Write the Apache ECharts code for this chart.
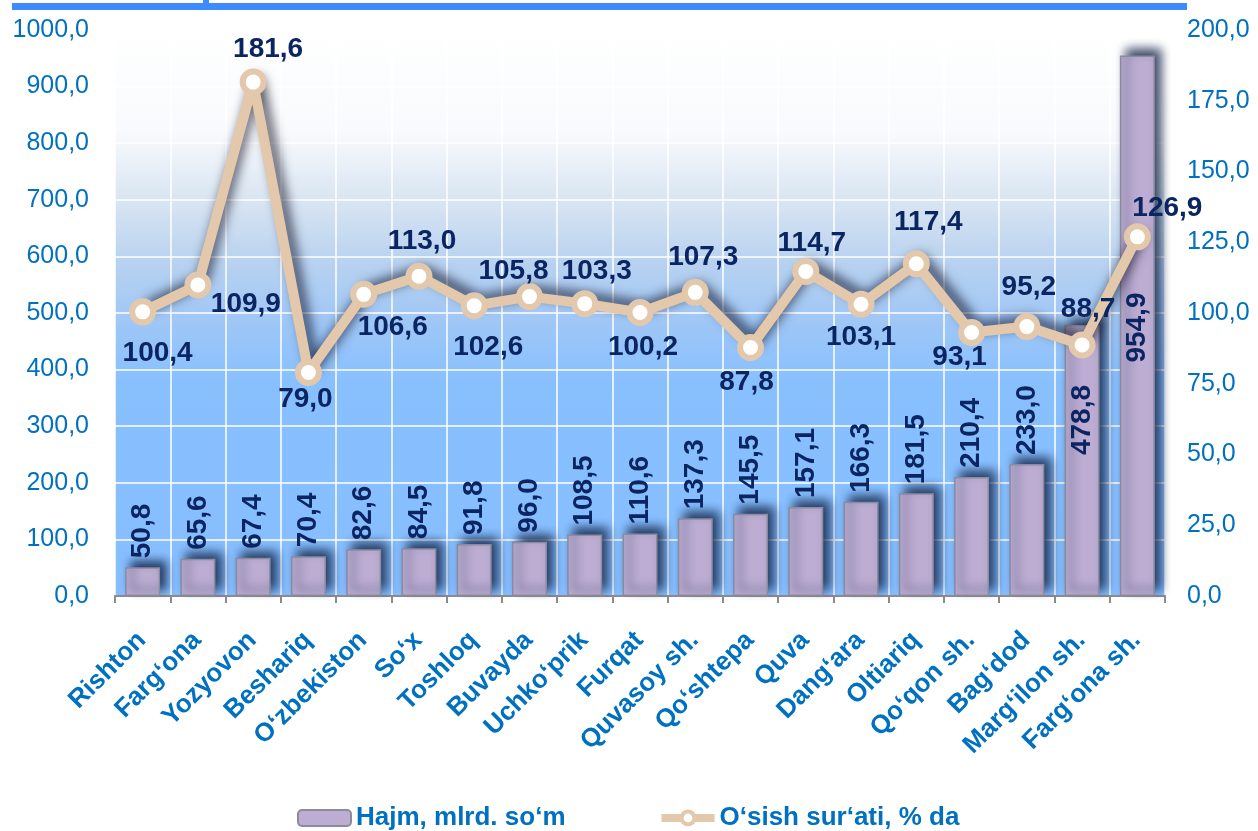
<!DOCTYPE html>
<html>
<head>
<meta charset="utf-8">
<script src="https://cdn.jsdelivr.net/npm/echarts@6/dist/echarts.min.js"></script>
<style>
  html, body { margin: 0; padding: 0; background: #fff; }
  #main { width: 1258px; height: 831px; }
</style>
</head>
<body>
<div id="main"></div>
<script>
// 数据
var categories = ["Rishton", "Farg‘ona", "Yozyovon", "Beshariq", "O‘zbekiston", "So‘x", "Toshloq", "Buvayda", "Uchko‘prik", "Furqat", "Quvasoy sh.", "Qo‘shtepa", "Quva", "Dang‘ara", "Oltiariq", "Qo‘qon sh.", "Bag‘dod", "Marg‘ilon sh.", "Farg‘ona sh."];
var hajm = [50.8, 65.6, 67.4, 70.4, 82.6, 84.5, 91.8, 96.0, 108.5, 110.6, 137.3, 145.5, 157.1, 166.3, 181.5, 210.4, 233.0, 478.8, 954.9];
var osish = [100.4, 109.9, 181.6, 79.0, 106.6, 113.0, 102.6, 105.8, 103.3, 100.2, 107.3, 87.8, 114.7, 103.1, 117.4, 93.1, 95.2, 88.7, 126.9];
var seriesNames = ["Hajm, mlrd. so‘m", "O‘sish sur‘ati, % da"];

// 折线标签的偏移 (相对于点)
var lineLabelOffset = [
  [15, 41], [48, 19], [15, -33], [-3, 27], [29, 33], [3, -35], [14, 42],
  [-16, -25], [12, -32], [3, 35], [8, -35], [-4, 35], [6, -28], [0, 33],
  [12, -41], [-12, 25], [2, -39], [6, -36], [30, -29]
];

var FONT = "'Liberation Sans', Arial, sans-serif";
var BLUE = "#0070C0";
var NAVY = "#0B2562";
var TAN = "#E3C8AC";

function fmt(v) {
  return Number(v).toFixed(1).replace(".", ",");
}

var myChart = echarts.init(document.getElementById("main"));

var barData = hajm.map(function(v, i) {
  var item = { value: v };
  // 最后两个柱子的标签放在柱子里面
  if (i === 17) {
    item.label = { position: "insideTop", align: "right", distance: 60 };
  } else if (i === 18) {
    item.label = { position: "insideTop", align: "right", distance: 237 };
  }
  return item;
});

var lineData = osish.map(function(v, i) {
  return { value: v, label: { offset: lineLabelOffset[i] } };
});

var option = {
  backgroundColor: "#fff",
  textStyle: { fontFamily: FONT },
  animation: false,
  graphic: [
    { type: "rect", shape: { x: 12, y: 3, width: 1175, height: 7 }, style: { fill: "#3D8BFF" } },
    { type: "rect", shape: { x: 203, y: 0, width: 6, height: 6 }, style: { fill: "#3D8BFF" } }
  ],
  grid: {
    left: 115,
    right: 93,
    top: 30,
    bottom: 235,
    show: true,
    borderWidth: 0,
    backgroundColor: {
      type: "linear", x: 0, y: 0, x2: 0, y2: 1,
      colorStops: [
        { offset: 0, color: "#FFFFFF" },
        { offset: 0.18, color: "#F8FAFD" },
        { offset: 0.3, color: "#D9E5F2" },
        { offset: 0.41, color: "#B8D2F0" },
        { offset: 0.51, color: "#A0C7F6" },
        { offset: 0.62, color: "#88C0FE" },
        { offset: 1, color: "#85BDFF" }
      ]
    }
  },
  legend: {
    top: 800,
    left: 292,
    itemWidth: 53,
    itemHeight: 16,
    itemGap: 92,
    data: [
      { name: seriesNames[0] },
      {
        name: seriesNames[1],
        lineStyle: { width: 8, color: TAN, shadowBlur: 0 },
        itemStyle: { color: "#FFFFFF", borderColor: TAN, borderWidth: 4, shadowBlur: 0 }
      }
    ],
    textStyle: { color: BLUE, fontSize: 26, fontWeight: "bold", fontFamily: FONT }
  },
  xAxis: {
    type: "category",
    data: categories,
    axisLine: { lineStyle: { color: "#8C8C8C", width: 2 } },
    axisTick: { show: true, length: 7, lineStyle: { color: "#8C8C8C", width: 2 } },
    splitLine: { show: true, lineStyle: { color: "#FFFFFF", width: 1.5 } },
    axisLabel: {
      interval: 0,
      rotate: 45,
      margin: 21,
      padding: [0, 14, 0, 0],
      align: "right",
      verticalAlign: "top",
      color: BLUE,
      fontSize: 26,
      fontWeight: "bold",
      fontFamily: FONT
    }
  },
  yAxis: [
    {
      type: "value",
      min: 0,
      max: 1000,
      interval: 100,
      axisLine: { show: false },
      axisTick: { show: false },
      splitLine: { show: true, lineStyle: { color: "#FFFFFF", width: 1.5 } },
      axisLabel: { color: BLUE, fontSize: 25, margin: 26, formatter: fmt, fontFamily: FONT }
    },
    {
      type: "value",
      min: 0,
      max: 200,
      interval: 25,
      axisLine: { show: false },
      axisTick: { show: false },
      splitLine: { show: false },
      axisLabel: { color: BLUE, fontSize: 25, margin: 22, formatter: fmt, fontFamily: FONT }
    }
  ],
  series: [
    {
      name: seriesNames[0],
      type: "bar",
      barWidth: 35,
      data: barData,
      itemStyle: {
        color: "#BDADD3",
        borderColor: "#8B8B9E",
        borderWidth: 1.5,
        shadowColor: "rgba(15,30,65,0.85)",
        shadowBlur: 10,
        shadowOffsetX: 6,
        shadowOffsetY: -6
      },
      label: {
        show: true,
        position: "top",
        rotate: 90,
        align: "left",
        verticalAlign: "middle",
        distance: 9,
        color: NAVY,
        fontSize: 28,
        fontWeight: "bold",
        fontFamily: FONT,
        formatter: function(p) { return fmt(p.value); }
      },
      z: 2
    },
    {
      name: seriesNames[1],
      type: "line",
      yAxisIndex: 1,
      data: lineData,
      symbol: "circle",
      symbolSize: 21,
      lineStyle: {
        color: TAN,
        width: 10,
        shadowColor: "rgba(0,0,20,0.7)",
        shadowBlur: 12,
        shadowOffsetX: 5,
        shadowOffsetY: -5
      },
      itemStyle: {
        color: "#FFFFFF",
        borderColor: TAN,
        borderWidth: 6
      },
      label: {
        show: true,
        position: "inside",
        color: NAVY,
        fontSize: 28,
        fontWeight: "bold",
        fontFamily: FONT,
        formatter: function(p) { return fmt(p.value); }
      },
      z: 3
    }
  ]
};

myChart.setOption(option);
window.addEventListener("resize", function() {
  myChart.resize();
});
</script>
</body>
</html>
